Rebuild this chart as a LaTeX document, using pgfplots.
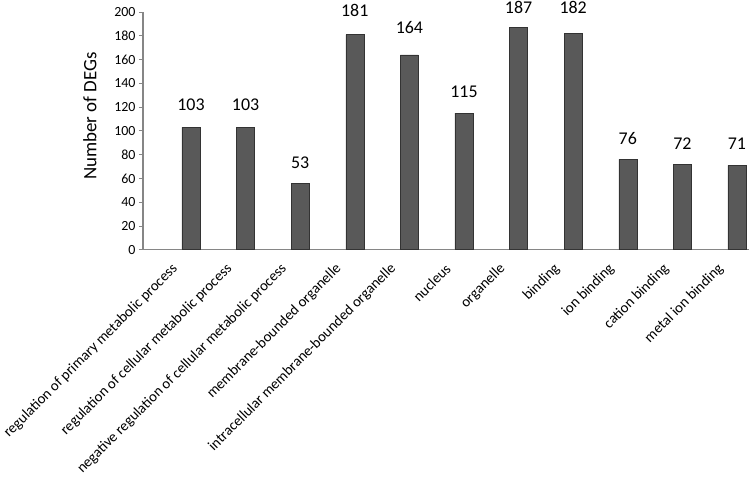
\documentclass[border=0pt]{standalone}
\usepackage{fontspec}
\setmainfont{Carlito}
\usepackage{pgfplots}
\usepackage{pgfplotstable}
\pgfplotsset{compat=1.18}
\definecolor{axisgray}{HTML}{868686}
\definecolor{barfill}{HTML}{595959}
\definecolor{bardraw}{HTML}{333333}
\pgfplotstableread{
x y label ly
0 103 103 117.5
1 103 103 117.5
2 56 53 68.5
3 181 181 196.0
4 164 164 181.5
5 115 115 128.2
6 187 187 198.9
7 182 182 198.9
8 76 76 88.1
9 72 72 84.5
10 71 71 84.5
}\datatable
\begin{document}
\begin{tikzpicture}
\begin{axis}[
 scale only axis, width=606bp, height=237.7bp,
 xmin=-0.879, xmax=10.22, ymin=0, ymax=200,
 axis lines*=left,
 axis line style={draw=axisgray, line width=1.2bp},
 ytick={0,20,...,200},
 tick align=outside, major tick length=4bp,
 ytick style={draw=axisgray, line width=0.8bp},
 xtick={0,...,10}, xtick style={draw=none},
 xticklabels={regulation of primary metabolic process, regulation of cellular metabolic process, negative regulation of cellular metabolic process, membrane-bounded organelle, intracellular membrane-bounded organelle, nucleus, organelle, binding, ion binding, cation binding, metal ion binding},
 xticklabel style={xshift=-15bp, yshift=-12bp, rotate=45, anchor=east, font=\fontsize{14.8}{16}\selectfont, inner sep=1bp},
 yticklabel style={font=\fontsize{14}{16}\selectfont},
 ylabel={Number of DEGs},
 ylabel style={font=\fontsize{19}{22}\selectfont, at={(axis description cs:-0.0875,0.5625)}, anchor=center},
 /pgf/number format/assume math mode=true,
 clip=false,
]
\addplot[ybar, bar width=18bp, fill=barfill, draw=bardraw, line width=0.5bp]
  table[x=x, y=y] {\datatable};
\addplot[draw=none, mark=none, nodes near coords, point meta=explicit symbolic,
  every node near coord/.append style={font=\fontsize{18}{20}\selectfont, anchor=base, inner sep=0pt, text=black}]
  table[x=x, y=ly, meta=label] {\datatable};
\end{axis}
\pgfresetboundingbox
\path[use as bounding box] ([xshift=-143bp,yshift=-227.3bp]current axis.south west) rectangle ++(749bp,477bp);
\end{tikzpicture}
\end{document}
